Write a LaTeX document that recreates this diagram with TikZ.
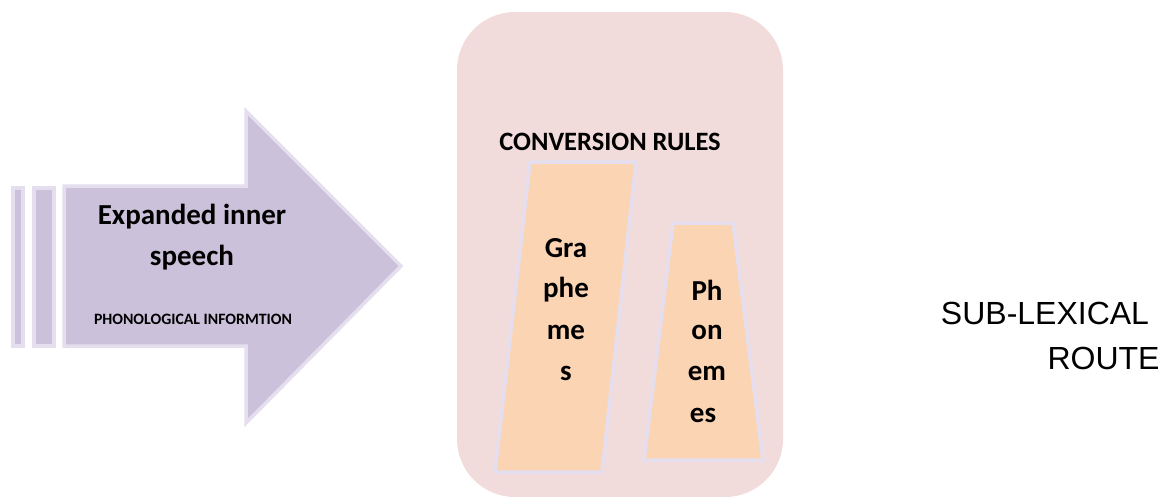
\documentclass[tikz,border=0pt]{standalone}
\usepackage{fontspec}
\setmainfont{Carlito}
\newfontfamily\arialfont{Liberation Sans}
\definecolor{arrowfill}{HTML}{CCC1DA}
\definecolor{lavline}{HTML}{E5DEEE}
\definecolor{boxfill}{HTML}{F2DCDB}
\definecolor{peach}{HTML}{FBD4B4}
\begin{document}
\begin{tikzpicture}[x=1pt,y=-1pt,
  arrowpart/.style={fill=arrowfill,draw=lavline,line width=3.5pt,line join=miter},
  peachbox/.style={fill=peach,draw=lavline,line width=3.5pt,line join=round},
  bigtxt/.style={font=\fontsize{29}{42}\selectfont\bfseries,align=center,inner sep=0pt},
  smalltxt/.style={font=\fontsize{15.8}{18}\selectfont\bfseries,inner sep=0pt},
  routetxt/.style={font=\arialfont\fontsize{32}{38}\selectfont,inner sep=0pt}]
\useasboundingbox (0,0) rectangle (1165,496);
% arrow
\draw[arrowpart] (13,188) rectangle (23,346);
\draw[arrowpart] (34,188) rectangle (54,346);
\draw[arrowpart] (64,186) -- (246,186) -- (246,111) -- (401,266) -- (246,423) -- (246,346) -- (64,346) -- cycle;
\node[bigtxt] (t1) at (192,217) {Expanded inner};
\node[bigtxt] (t2) at (192,258) {speech};
\node[smalltxt] (t3) at (193,319) {PHONOLOGICAL INFORMTION};
% rounded box
\fill[boxfill,rounded corners=58pt] (457,12) rectangle (783,497);
\node[bigtxt,font=\fontsize{26.5}{30}\selectfont\bfseries] (cr) at (610,142) {CONVERSION RULES};
\draw[peachbox] (530,162) -- (636,162) -- (602,472) -- (495,472) -- cycle;
\draw[peachbox] (673,223) -- (733,223) -- (763,460) -- (644,460) -- cycle;
\node[bigtxt] (g1) at (566,248) {Gra};
\node[bigtxt] (g2) at (566,290) {phe};
\node[bigtxt] (g3) at (566,332) {me};
\node[bigtxt] (g4) at (566,373) {s};
\node[bigtxt] (p1) at (707,290) {Ph};
\node[bigtxt] (p2) at (707,332) {on};
\node[bigtxt] (p3) at (707,373) {em};
\node[bigtxt] (p4) at (703,415) {es};
\node[routetxt] (s1) at (1045,313) {SUB-LEXICAL};
\node[routetxt] (s2) at (1103.5,358) {ROUTE};
\end{tikzpicture}
\end{document}
